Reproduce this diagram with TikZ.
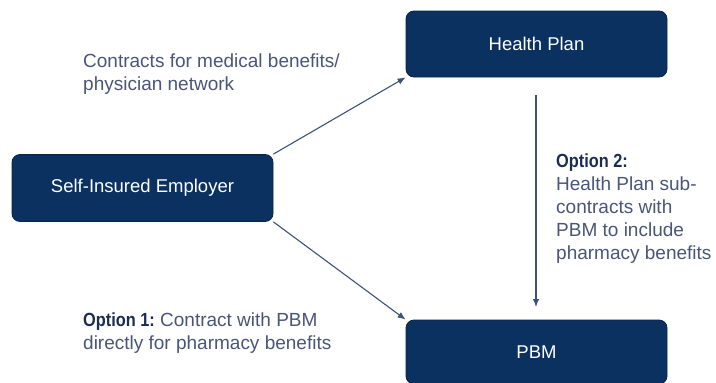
\documentclass[tikz,border=0pt]{standalone}
\usepackage{fontspec}
\setmainfont{Liberation Sans}
\usetikzlibrary{arrows.meta}
\definecolor{boxblue}{HTML}{0B3161}
\definecolor{boxedge}{HTML}{07244A}
\definecolor{linecol}{HTML}{3E5278}
\definecolor{txtcol}{HTML}{4A5577}
\definecolor{optcol}{HTML}{1B2D52}
\tikzset{
  box/.style={draw=boxedge, line width=0.8pt, fill=boxblue, rounded corners=8pt,
    text=white, font=\fontsize{18.5}{22}\selectfont, inner sep=0pt},
  conn/.style={draw=linecol, line width=1.1pt, -{Latex[length=8pt,width=6.5pt]}},
  lbl/.style={text=txtcol, font=\fontsize{19}{23}\selectfont, align=left, inner sep=0pt, anchor=north west}
}
\newcommand{\opt}[1]{{\color{optcol}\bfseries\scalebox{0.86}[1]{#1}}}
\begin{document}
\begin{tikzpicture}[x=1pt,y=-1pt]
\useasboundingbox (0,0) rectangle (716,383);
\node[box, minimum width=261pt, minimum height=67pt] (emp) at (142.5,188) {Self-Insured Employer};
\node[box, minimum width=261pt, minimum height=66pt] (hp) at (536.5,44) {Health Plan};
\node[box, minimum width=261pt, minimum height=64pt] (pbm) at (536.5,352) {PBM};
\coordinate (vtop) at (536,95);
\coordinate (vbot) at (536,307);
\draw[conn] (emp.north east) -- (hp.south west);
\draw[conn] (emp.south east) -- (pbm.north west);
\draw[conn] (vtop) -- (vbot);
\node[lbl] (l1) at (83,54) {Contracts for medical benefits/\\physician network};
\node[lbl] (l2) at (556,154) {\opt{Option 2:}\\Health Plan sub-\\contracts with\\PBM to include\\pharmacy benefits};
\node[lbl] (l3) at (83,313) {\opt{Option 1:} Contract with PBM\\directly for pharmacy benefits};
\end{tikzpicture}
\end{document}
